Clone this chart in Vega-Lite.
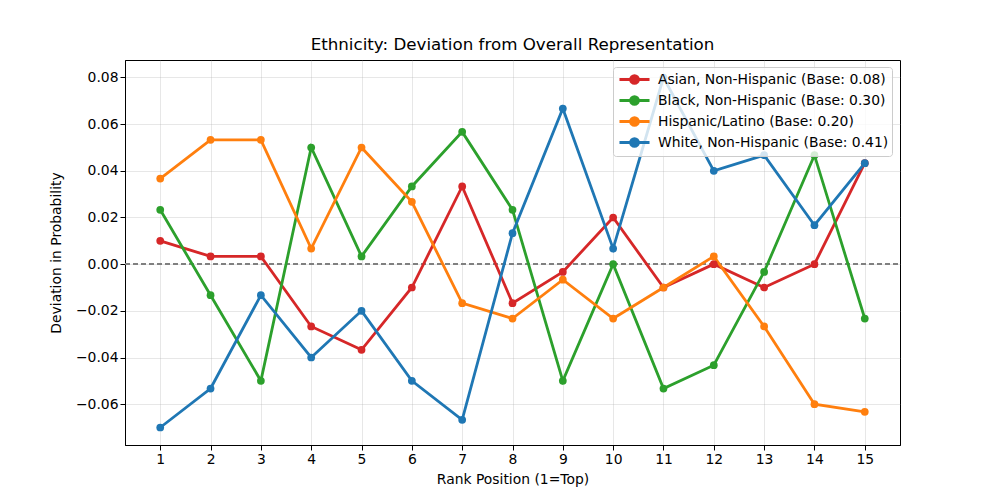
{
  "$schema": "https://vega.github.io/schema/vega-lite/v6.json",
  "width": 775,
  "height": 385,
  "autosize": {"type": "none"},
  "padding": {"left": 125, "top": 60, "right": 100, "bottom": 55},
  "title": {"text": "Ethnicity: Deviation from Overall Representation", "font": "DejaVu Sans", "fontSize": 16.7, "fontWeight": "normal", "color": "black", "offset": 6},
  "config": {
    "view": {"stroke": "black", "strokeWidth": 1},
    "font": "DejaVu Sans",
    "axis": {
      "labelFont": "DejaVu Sans", "labelFontSize": 13.9, "labelColor": "black",
      "titleFont": "DejaVu Sans", "titleFontSize": 13.9, "titleFontWeight": "normal", "titleColor": "black",
      "domainColor": "black", "tickColor": "black", "tickSize": 5,
      "gridColor": "#b0b0b0", "gridOpacity": 0.3, "gridWidth": 1
    }
  },
  "data": {"values": [
    {"rank": 1, "group": "Asian, Non-Hispanic (Base: 0.08)", "dev": 0.01},
    {"rank": 2, "group": "Asian, Non-Hispanic (Base: 0.08)", "dev": 0.00333},
    {"rank": 3, "group": "Asian, Non-Hispanic (Base: 0.08)", "dev": 0.00333},
    {"rank": 4, "group": "Asian, Non-Hispanic (Base: 0.08)", "dev": -0.0267},
    {"rank": 5, "group": "Asian, Non-Hispanic (Base: 0.08)", "dev": -0.0367},
    {"rank": 6, "group": "Asian, Non-Hispanic (Base: 0.08)", "dev": -0.01},
    {"rank": 7, "group": "Asian, Non-Hispanic (Base: 0.08)", "dev": 0.0333},
    {"rank": 8, "group": "Asian, Non-Hispanic (Base: 0.08)", "dev": -0.0167},
    {"rank": 9, "group": "Asian, Non-Hispanic (Base: 0.08)", "dev": -0.00333},
    {"rank": 10, "group": "Asian, Non-Hispanic (Base: 0.08)", "dev": 0.02},
    {"rank": 11, "group": "Asian, Non-Hispanic (Base: 0.08)", "dev": -0.01},
    {"rank": 12, "group": "Asian, Non-Hispanic (Base: 0.08)", "dev": 0.0},
    {"rank": 13, "group": "Asian, Non-Hispanic (Base: 0.08)", "dev": -0.01},
    {"rank": 14, "group": "Asian, Non-Hispanic (Base: 0.08)", "dev": 0.0},
    {"rank": 15, "group": "Asian, Non-Hispanic (Base: 0.08)", "dev": 0.0433},
    {"rank": 1, "group": "Black, Non-Hispanic (Base: 0.30)", "dev": 0.0233},
    {"rank": 2, "group": "Black, Non-Hispanic (Base: 0.30)", "dev": -0.0133},
    {"rank": 3, "group": "Black, Non-Hispanic (Base: 0.30)", "dev": -0.05},
    {"rank": 4, "group": "Black, Non-Hispanic (Base: 0.30)", "dev": 0.05},
    {"rank": 5, "group": "Black, Non-Hispanic (Base: 0.30)", "dev": 0.00333},
    {"rank": 6, "group": "Black, Non-Hispanic (Base: 0.30)", "dev": 0.0333},
    {"rank": 7, "group": "Black, Non-Hispanic (Base: 0.30)", "dev": 0.0567},
    {"rank": 8, "group": "Black, Non-Hispanic (Base: 0.30)", "dev": 0.0233},
    {"rank": 9, "group": "Black, Non-Hispanic (Base: 0.30)", "dev": -0.05},
    {"rank": 10, "group": "Black, Non-Hispanic (Base: 0.30)", "dev": 0.0},
    {"rank": 11, "group": "Black, Non-Hispanic (Base: 0.30)", "dev": -0.0533},
    {"rank": 12, "group": "Black, Non-Hispanic (Base: 0.30)", "dev": -0.0433},
    {"rank": 13, "group": "Black, Non-Hispanic (Base: 0.30)", "dev": -0.00333},
    {"rank": 14, "group": "Black, Non-Hispanic (Base: 0.30)", "dev": 0.0467},
    {"rank": 15, "group": "Black, Non-Hispanic (Base: 0.30)", "dev": -0.0233},
    {"rank": 1, "group": "Hispanic/Latino (Base: 0.20)", "dev": 0.0367},
    {"rank": 2, "group": "Hispanic/Latino (Base: 0.20)", "dev": 0.0533},
    {"rank": 3, "group": "Hispanic/Latino (Base: 0.20)", "dev": 0.0533},
    {"rank": 4, "group": "Hispanic/Latino (Base: 0.20)", "dev": 0.00667},
    {"rank": 5, "group": "Hispanic/Latino (Base: 0.20)", "dev": 0.05},
    {"rank": 6, "group": "Hispanic/Latino (Base: 0.20)", "dev": 0.0267},
    {"rank": 7, "group": "Hispanic/Latino (Base: 0.20)", "dev": -0.0167},
    {"rank": 8, "group": "Hispanic/Latino (Base: 0.20)", "dev": -0.0233},
    {"rank": 9, "group": "Hispanic/Latino (Base: 0.20)", "dev": -0.00667},
    {"rank": 10, "group": "Hispanic/Latino (Base: 0.20)", "dev": -0.0233},
    {"rank": 11, "group": "Hispanic/Latino (Base: 0.20)", "dev": -0.01},
    {"rank": 12, "group": "Hispanic/Latino (Base: 0.20)", "dev": 0.00333},
    {"rank": 13, "group": "Hispanic/Latino (Base: 0.20)", "dev": -0.0267},
    {"rank": 14, "group": "Hispanic/Latino (Base: 0.20)", "dev": -0.06},
    {"rank": 15, "group": "Hispanic/Latino (Base: 0.20)", "dev": -0.0633},
    {"rank": 1, "group": "White, Non-Hispanic (Base: 0.41)", "dev": -0.07},
    {"rank": 2, "group": "White, Non-Hispanic (Base: 0.41)", "dev": -0.0533},
    {"rank": 3, "group": "White, Non-Hispanic (Base: 0.41)", "dev": -0.0133},
    {"rank": 4, "group": "White, Non-Hispanic (Base: 0.41)", "dev": -0.04},
    {"rank": 5, "group": "White, Non-Hispanic (Base: 0.41)", "dev": -0.02},
    {"rank": 6, "group": "White, Non-Hispanic (Base: 0.41)", "dev": -0.05},
    {"rank": 7, "group": "White, Non-Hispanic (Base: 0.41)", "dev": -0.0667},
    {"rank": 8, "group": "White, Non-Hispanic (Base: 0.41)", "dev": 0.0133},
    {"rank": 9, "group": "White, Non-Hispanic (Base: 0.41)", "dev": 0.0667},
    {"rank": 10, "group": "White, Non-Hispanic (Base: 0.41)", "dev": 0.00667},
    {"rank": 11, "group": "White, Non-Hispanic (Base: 0.41)", "dev": 0.08},
    {"rank": 12, "group": "White, Non-Hispanic (Base: 0.41)", "dev": 0.04},
    {"rank": 13, "group": "White, Non-Hispanic (Base: 0.41)", "dev": 0.0467},
    {"rank": 14, "group": "White, Non-Hispanic (Base: 0.41)", "dev": 0.0167},
    {"rank": 15, "group": "White, Non-Hispanic (Base: 0.41)", "dev": 0.0433}
  ]},
  "encoding": {
    "x": {"field": "rank", "type": "quantitative", "scale": {"domain": [0.3, 15.7], "nice": false, "zero": false},
      "axis": {"title": "Rank Position (1=Top)", "values": [1,2,3,4,5,6,7,8,9,10,11,12,13,14,15], "format": "d", "titlePadding": 7}},
    "y": {"field": "dev", "type": "quantitative", "scale": {"domain": [-0.0775, 0.0875], "nice": false, "zero": false},
      "axis": {"title": "Deviation in Probability", "values": [-0.06,-0.04,-0.02,0,0.02,0.04,0.06,0.08], "format": ".2f", "titlePadding": 12}}
  },
  "layer": [
    {
      "mark": {"type": "rule", "color": "gray", "strokeDash": [5, 3], "strokeWidth": 1.2},
      "encoding": {"y": {"datum": 0}, "x": {"value": 0}, "x2": {"value": 775}}
    },
    {
      "mark": {"type": "line", "strokeWidth": 2.8},
      "encoding": {
        "color": {"field": "group", "type": "nominal",
          "scale": {"range": ["#d62728", "#2ca02c", "#ff7f0e", "#1f77b4"]},
          "legend": {"title": null, "orient": "none", "legendX": 488, "legendY": 7,
            "labelFont": "DejaVu Sans", "labelFontSize": 13.9, "labelColor": "black", "labelLimit": 0,
            "symbolType": "M-1.9,0H1.9M-0.5,0A0.5,0.5,0,1,1,0.5,0A0.5,0.5,0,1,1,-0.5,0",
            "symbolSize": 250, "symbolStrokeWidth": 2.8, "symbolOpacity": 1, "symbolOffset": 9,
            "rowPadding": 0, "labelOffset": 14, "padding": 3,
            "fillColor": "rgba(255,255,255,0.8)", "strokeColor": "#cccccc", "cornerRadius": 3}
        }
      }
    },
    {
      "mark": {"type": "point", "filled": true, "size": 60, "opacity": 1},
      "encoding": {"color": {"field": "group", "type": "nominal"}}
    }
  ]
}
